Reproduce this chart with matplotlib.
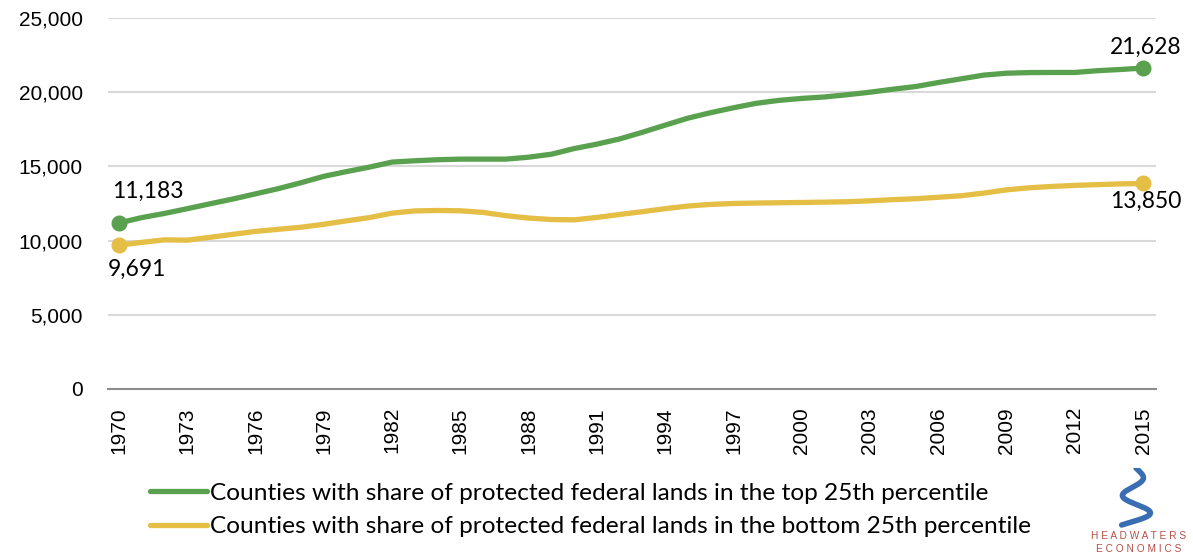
import matplotlib
matplotlib.use("Agg")
import matplotlib.pyplot as plt
import numpy as np

years = list(range(1970, 2016))
top25 = [11183, 11550, 11830, 12150, 12480, 12800, 13150, 13500, 13900, 14330,
         14650, 14950, 15290, 15380, 15450, 15490, 15490, 15490, 15620, 15820,
         16200, 16500, 16850, 17300, 17780, 18250, 18620, 18950, 19250, 19450,
         19580, 19680, 19830, 20000, 20200, 20380, 20650, 20900, 21150, 21280,
         21320, 21330, 21330, 21450, 21530, 21628]
bottom25 = [9691, 9880, 10050, 10030, 10220, 10420, 10620, 10760, 10900, 11100,
            11330, 11550, 11850, 12000, 12030, 12010, 11900, 11680, 11520, 11420,
            11400, 11560, 11760, 11950, 12150, 12330, 12440, 12500, 12530, 12550,
            12570, 12590, 12620, 12680, 12760, 12820, 12920, 13020, 13200, 13420,
            13560, 13650, 13720, 13770, 13820, 13850]
xticks = list(range(1970, 2016, 3))
yticks = [0, 5000, 10000, 15000, 20000, 25000]
label_top = "Counties with share of protected federal lands in the top 25th percentile"
label_bottom = "Counties with share of protected federal lands in the bottom 25th percentile"

GREEN = "#5aa14f"
YELLOW = "#e5be45"
LABEL_FONT = ["Lato", "DejaVu Sans"]
TICK_FONT = ["Liberation Sans", "DejaVu Sans"]

fig = plt.figure(figsize=(11.93, 5.6), dpi=100)
ax = fig.add_axes([108 / 1193, 1 - 389 / 560, (1156 - 108) / 1193, (389 - 18) / 560])

l1, = ax.plot(years, top25, color=GREEN, lw=3.8, solid_capstyle="round",
              solid_joinstyle="round", label=label_top, zorder=3)
l2, = ax.plot(years, bottom25, color=YELLOW, lw=3.8, solid_capstyle="round",
              solid_joinstyle="round", label=label_bottom, zorder=3)
for s, c in ((top25, GREEN), (bottom25, YELLOW)):
    ax.plot([years[0], years[-1]], [s[0], s[-1]], "o", color=c, ms=10.5, zorder=4)

ax.set_xlim(1969.52, 2015.57)
ax.set_ylim(0, 25000)
ax.set_yticks(yticks)
ax.set_yticklabels([f"{v:,}" for v in yticks], fontfamily=TICK_FONT, fontsize=15)
ax.set_xticks(xticks)
ax.set_xticklabels([str(y) for y in xticks], rotation=90, fontfamily=TICK_FONT, fontsize=15)
ax.tick_params(axis="both", length=0)
ax.tick_params(axis="y", pad=18)
ax.tick_params(axis="x", pad=13)
ax.grid(axis="y", color="#d9d9d9", lw=1.5, zorder=0)
for sp in ("top", "right", "left"):
    ax.spines[sp].set_visible(False)
ax.spines["bottom"].set_color("#8c8c8c")
ax.spines["bottom"].set_linewidth(1.5)
ax.spines["bottom"].set_zorder(2)

def lab(x, y, txt, dx, dy, ha):
    ax.annotate(txt, (x, y), xytext=(dx, dy), textcoords="offset pixels",
                ha=ha, va="center", fontsize=16.5, fontfamily=LABEL_FONT, color="black")

lab(years[0], top25[0], f"{top25[0]:,}", -7, 32, "left")
lab(years[0], bottom25[0], f"{bottom25[0]:,}", -11, -24, "left")
lab(years[-1], top25[-1], f"{top25[-1]:,}", 3, 21, "center")
lab(years[-1], bottom25[-1], f"{bottom25[-1]:,}", 3, -18, "center")

leg = fig.legend(handles=[l1, l2], loc="upper left", bbox_to_anchor=(140 / 1193, 1 - 473 / 560),
                 frameon=False, prop={"family": LABEL_FONT, "size": 17.6},
                 handlelength=2.35, handletextpad=0.12, labelspacing=0.5, borderaxespad=0)

# Headwaters Economics logo (decorative)
lax = fig.add_axes([1108 / 1193, 1 - 528 / 560, 56 / 1193, 60 / 560])
lax.axis("off")
t = np.linspace(0, 1, 200)
sx = 0.5 + 0.25 * np.sin(t * 3.2 * np.pi) * (0.4 + t) - 0.05 * t
sy = 1 - t * 0.95
lax.plot(sx, sy, color="#3b6db3", lw=4.0, solid_capstyle="round")
lax.set_xlim(0, 1)
lax.set_ylim(0, 1)
fig.text(1139 / 1193, 1 - 536 / 560, "H E A D W A T E R S", ha="center", va="center",
         fontsize=7.3, color="#b5504a", fontfamily=TICK_FONT)
fig.text(1139 / 1193, 1 - 549 / 560, "E C O N O M I C S", ha="center", va="center",
         fontsize=7.3, color="#b5504a", fontfamily=TICK_FONT)

fig.savefig("out.png", dpi=100)
